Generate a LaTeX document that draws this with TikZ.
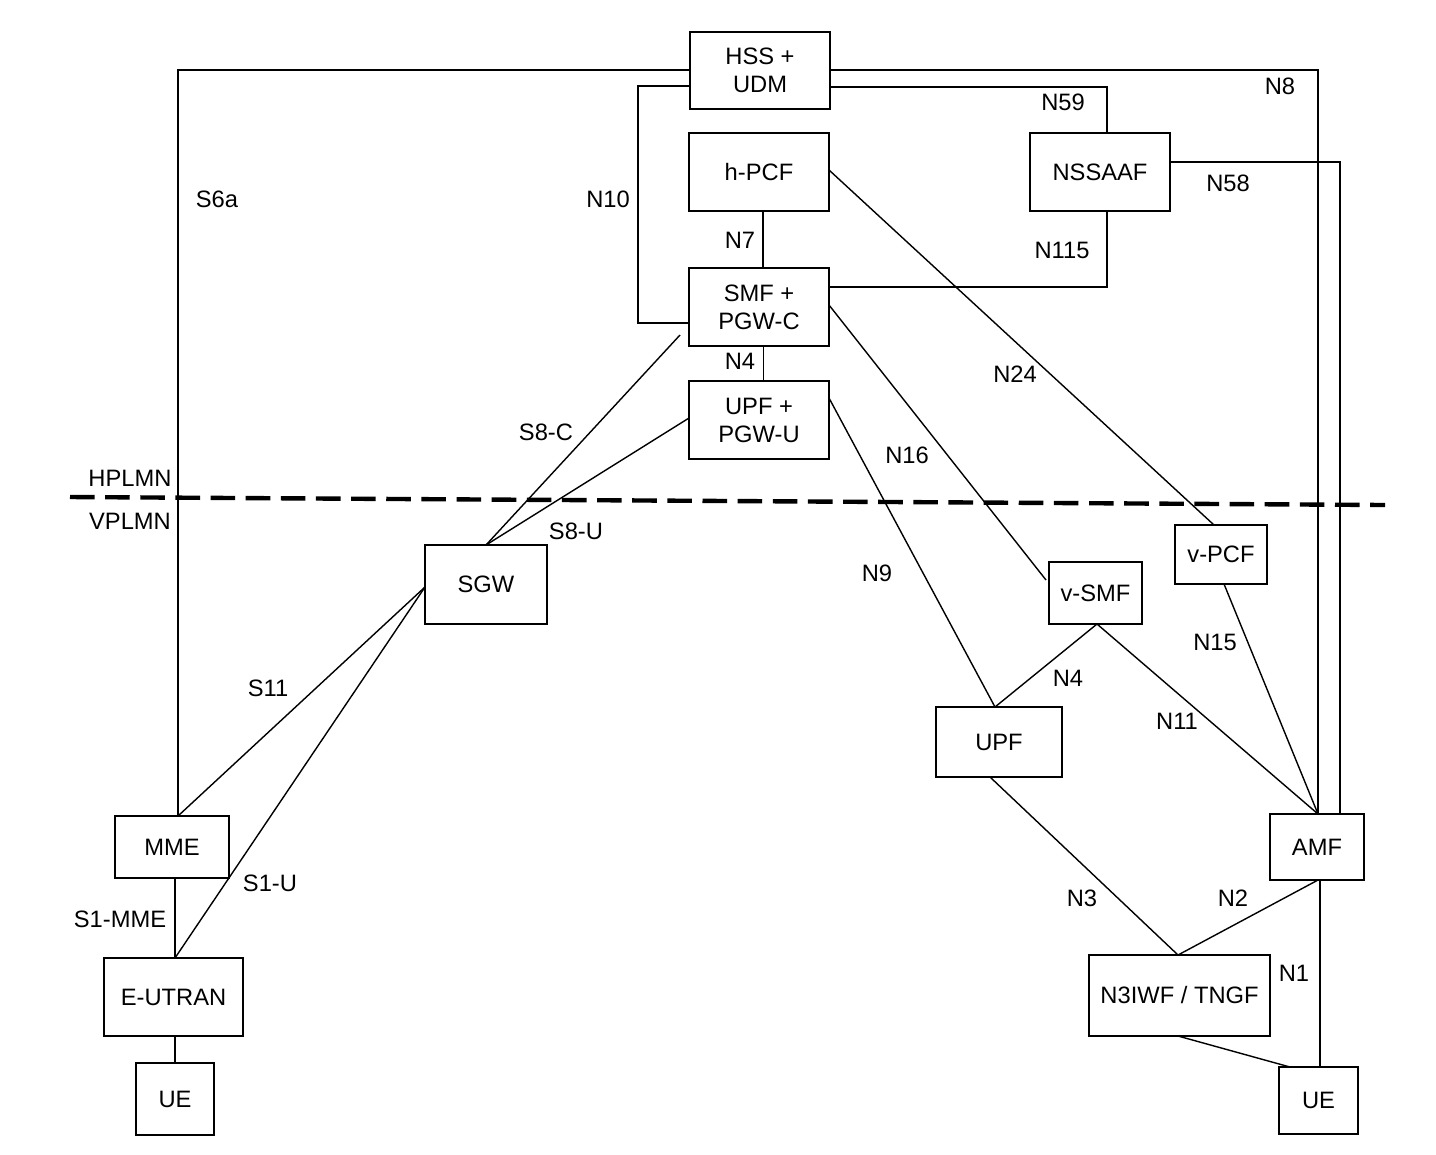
\documentclass[tikz,border=0pt]{standalone}
\usepackage{fontspec}
\setmainfont{Liberation Sans}
\begin{document}
\begin{tikzpicture}[x=0.02cm,y=-0.02cm,
  box/.style={draw,thick,align=center,font=\fontsize{13.5}{16}\selectfont,inner sep=0pt},
  lab/.style={font=\fontsize{13.5}{16}\selectfont},
  ln/.style={thick}]
\useasboundingbox (0,0) rectangle (1436,1154);
\newcommand{\bx}[6]{\node[box,minimum width=#4*0.02cm,minimum height=#5*0.02cm] (#1) at (#2,#3) {#6};}
\bx{hss}{760}{70.5}{140}{77}{HSS +\\UDM}
\bx{hpcf}{759}{172}{140}{78}{h-PCF}
\bx{nssaaf}{1100}{172}{140}{78}{NSSAAF}
\bx{smf}{759}{307}{140}{78}{SMF +\\PGW-C}
\bx{upfh}{759}{420}{140}{78}{UPF +\\PGW-U}
\bx{sgw}{486}{584.5}{122}{79}{SGW}
\bx{vpcf}{1221}{554.5}{92}{59}{v-PCF}
\bx{vsmf}{1095.5}{593}{93}{62}{v-SMF}
\bx{upf}{999}{742}{126}{70}{UPF}
\bx{mme}{172}{847}{114}{62}{MME}
\bx{amf}{1317}{847}{94}{66}{AMF}
\bx{eutran}{173.5}{997}{139}{78}{E-UTRAN}
\bx{n3iwf}{1179.5}{995.5}{181}{81}{N3IWF / TNGF}
\bx{uel}{175}{1099}{78}{72}{UE}
\bx{uer}{1318.5}{1100.5}{79}{67}{UE}
% lines
\draw[ln] (hss.west |- 0,70) -- (178,70) -- (178,816) coordinate (mmetop);
\draw[ln] (hss.east |- 0,70) -- (1318,70) -- (1318,814);
\draw[ln] (hss.east |- 0,87) -- (1107,87) -- (nssaaf.north -| 1107,0);
\draw[ln] (nssaaf.east |- 0,162) -- (1340,162) -- (1340,814);
\draw[ln] (hss.west |- 0,86) -- (638,86) -- (638,323) -- (smf.west |- 0,323);
\draw[ln] (hpcf.south -| 763,0) -- (smf.north -| 763,0);
\draw[ln] (nssaaf.south -| 1107,0) -- (1107,287) -- (smf.east |- 0,287);
\draw (smf.south -| 763,0) -- (upfh.north -| 763,0);
\draw[ln] (829,170) -- (1214,525);
\draw[ln] (829,305) -- (1046,580);
\draw[ln] (829,398) -- (995,707);
\draw[ln] (680,335) -- (486,545);
\draw[ln] (689,418) -- (486,545);
\draw[ln] (425,587) -- (178,816);
\draw[ln] (425,587) -- (175,958);
\draw[ln] (175,878) -- (175,958);
\draw[ln] (175,1036) -- (175,1063);
\draw[ln] (1097,624) -- (995,707);
\draw[ln] (1097,624) -- (1318,814);
\draw[ln] (1224,584) -- (1318,814);
\draw[ln] (990,777) -- (1178,955);
\draw[ln] (1318,880) -- (1178,955);
\draw[ln] (1320,880) -- (1320,1067);
\draw[ln] (1178,1036) -- (1290,1067);
\draw[line width=2.5pt,dash pattern=on 14pt off 6pt] (70,497) -- (1385,505);
% labels
\node[lab] at (217,199) {S6a};
\node[lab] at (1280,86) {N8};
\node[lab] at (1063,102) {N59};
\node[lab] at (1228,183) {N58};
\node[lab] at (608,199) {N10};
\node[lab] at (740,240) {N7};
\node[lab] at (1062,250) {N115};
\node[lab] at (740,361) {N4};
\node[lab] at (1015,374) {N24};
\node[lab] at (907,455) {N16};
\node[lab] at (877,573) {N9};
\node[lab] at (546,432) {S8-C};
\node[lab] at (576,531) {S8-U};
\node[lab] at (130,478) {HPLMN};
\node[lab] at (130,521) {VPLMN};
\node[lab] at (268,688) {S11};
\node[lab] at (270,883) {S1-U};
\node[lab] at (120,919) {S1-MME};
\node[lab] at (1068,678) {N4};
\node[lab] at (1177,721) {N11};
\node[lab] at (1215,642) {N15};
\node[lab] at (1082,898) {N3};
\node[lab] at (1233,898) {N2};
\node[lab] at (1294,973) {N1};
\end{tikzpicture}
\end{document}
